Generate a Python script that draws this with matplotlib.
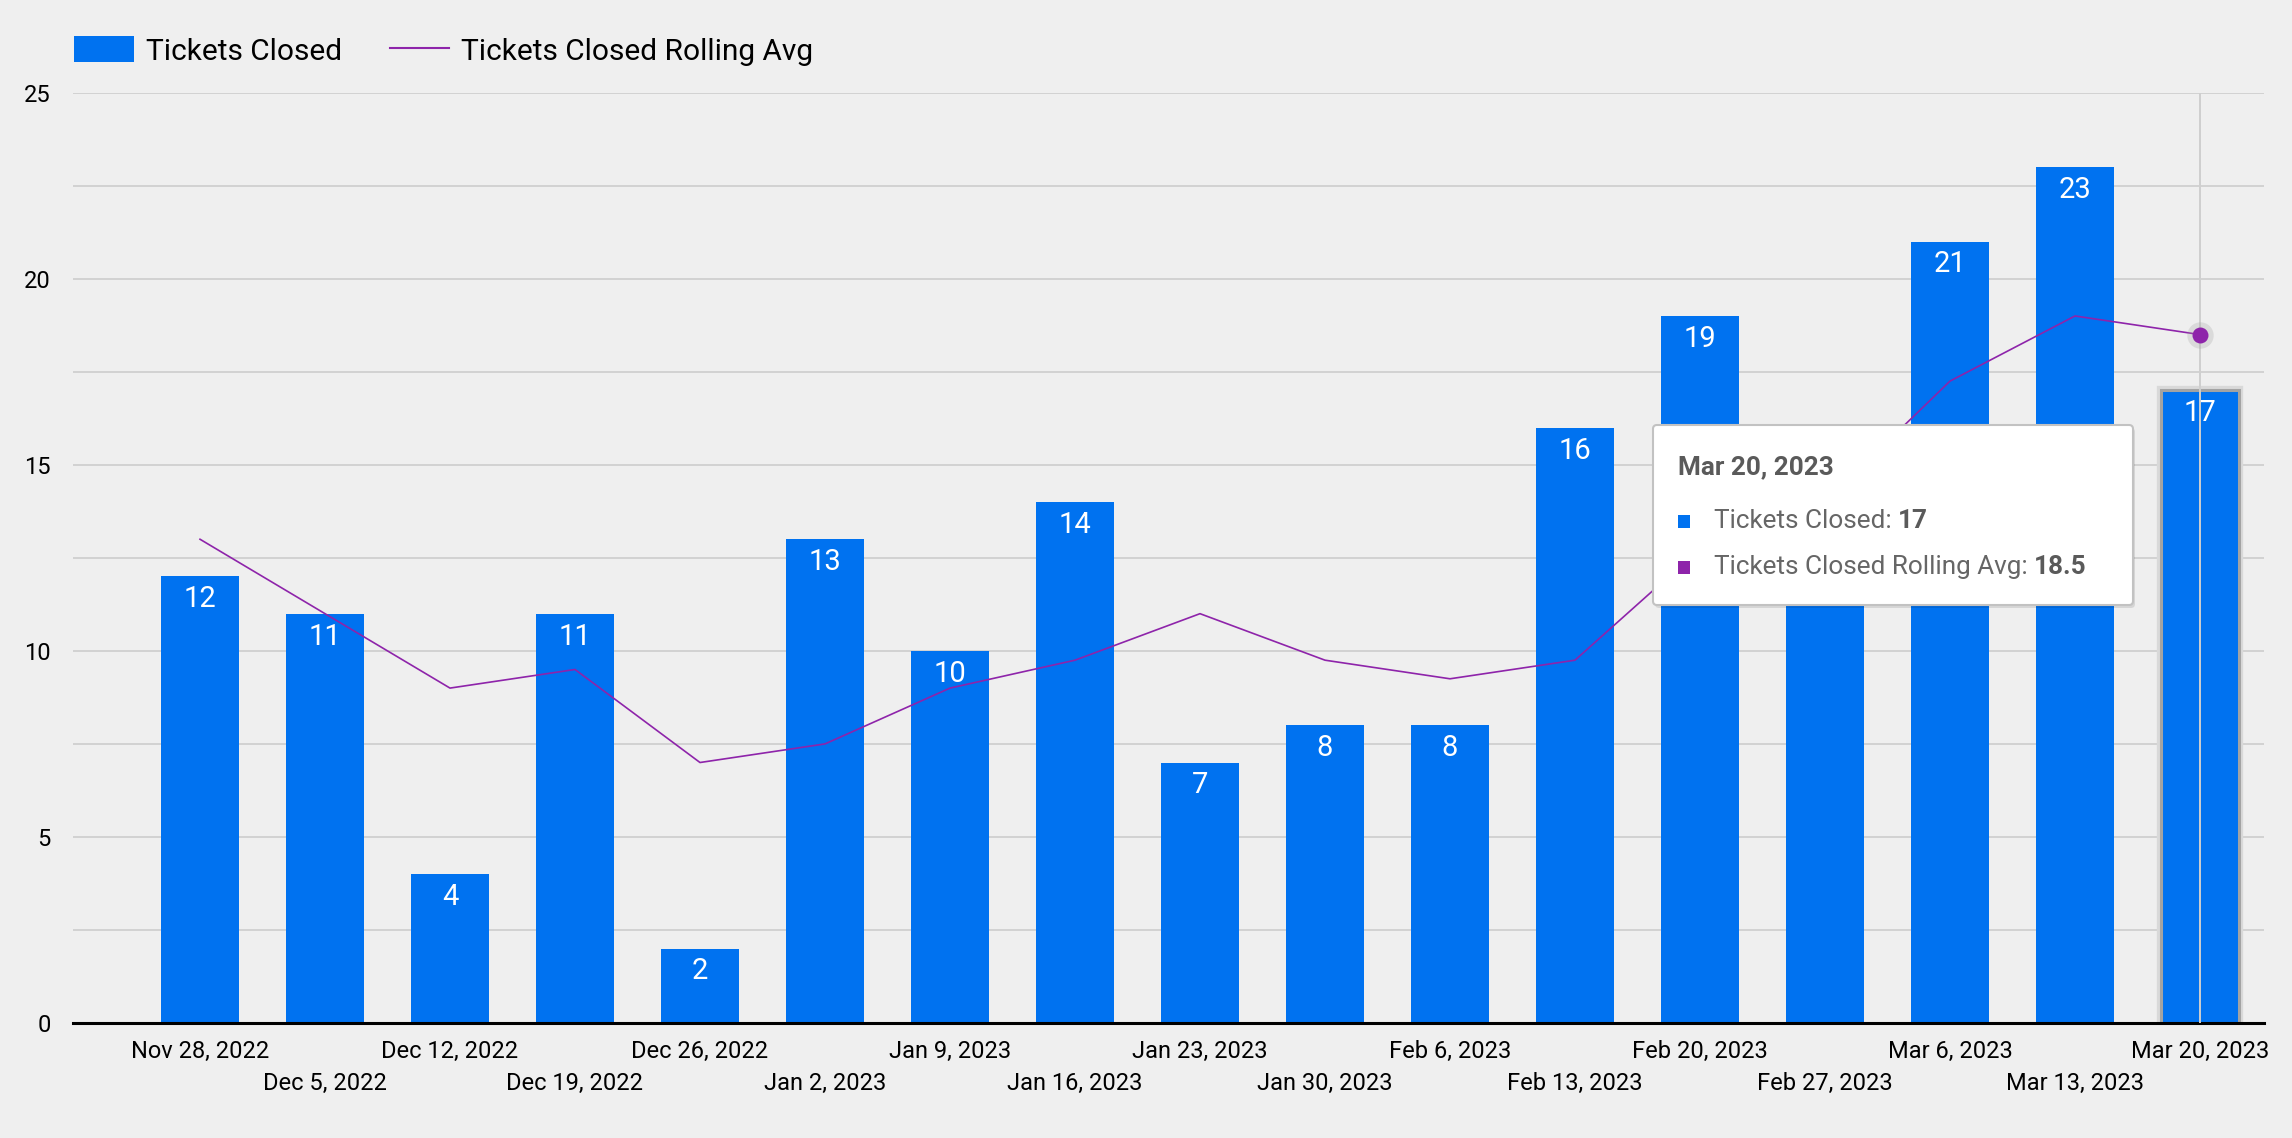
import matplotlib
matplotlib.use('Agg')
import matplotlib.pyplot as plt
from matplotlib.patches import Patch, FancyBboxPatch, Rectangle
from matplotlib.lines import Line2D
from matplotlib import patheffects as pe
from matplotlib.ticker import MultipleLocator

plt.rcParams['font.family'] = ['Roboto', 'DejaVu Sans']

# data
weeks = ['Nov 28, 2022', 'Dec 5, 2022', 'Dec 12, 2022', 'Dec 19, 2022', 'Dec 26, 2022',
         'Jan 2, 2023', 'Jan 9, 2023', 'Jan 16, 2023', 'Jan 23, 2023', 'Jan 30, 2023',
         'Feb 6, 2023', 'Feb 13, 2023', 'Feb 20, 2023', 'Feb 27, 2023', 'Mar 6, 2023',
         'Mar 13, 2023', 'Mar 20, 2023']
tickets_closed = [12, 11, 4, 11, 2, 13, 10, 14, 7, 8, 8, 16, 19, 13, 21, 23, 17]
rolling_avg = [13, 11, 9, 9.5, 7, 7.5, 9, 9.75, 11, 9.75, 9.25, 9.75, 12.75, 14, 17.25, 19, 18.5]
y_ticks = [0, 5, 10, 15, 20, 25]

BLUE = '#0072f0'
PURPLE = '#8e24aa'
BG = '#efefef'
W, H = 2292, 1138


def px(x, y):
    # pixel position (top-left origin) -> inches for dpi_scale_trans
    return x / 100, (H - y) / 100


fig = plt.figure(figsize=(W / 100, H / 100), dpi=100, facecolor=BG)
ax = fig.add_axes([73 / W, 1 - 1023 / H, (2264 - 73) / W, (1023 - 92.7) / H])
ax.set_facecolor(BG)

x = list(range(len(weeks)))
bars = ax.bar(x, tickets_closed, width=0.624, color=BLUE, zorder=2)

# hovered bar gets a grey outline
hl = bars[-1]
hl.set_edgecolor('#a3a3a3')
hl.set_linewidth(2.2)
hl.set_path_effects([pe.withStroke(linewidth=6, foreground='#d9d9d9')])

ax.plot(x, rolling_avg, color=PURPLE, lw=1.2, zorder=3)

for i, v in enumerate(tickets_closed):
    ax.annotate(str(v), xy=(i, v), xytext=(0, -16.5), textcoords='offset points',
                ha='center', va='center', color='white', fontsize=21, zorder=4)

# hover crosshair and point
ax.axvline(x[-1], color='#cfcfcf', lw=1.4, zorder=5)
ax.plot(x[-1], rolling_avg[-1], 'o', ms=19, color='#9e9e9e', alpha=0.25, mec='none', zorder=6)
ax.plot(x[-1], rolling_avg[-1], 'o', ms=11.5, color=PURPLE, mec='none', zorder=7)

ax.set_xlim(-1.016, 16.512)
ax.set_ylim(0, 25)
ax.set_yticks(y_ticks)
ax.yaxis.set_minor_locator(MultipleLocator(2.5))
ax.yaxis.grid(True, which='both', color='#d2d2d2', lw=1.4)
ax.set_axisbelow(True)
for s in ['top', 'right', 'left']:
    ax.spines[s].set_visible(False)
ax.spines['bottom'].set_color('black')
ax.spines['bottom'].set_linewidth(2.2)
ax.spines['bottom'].set_zorder(3)
ax.tick_params(axis='both', which='both', length=0, labelsize=17, colors='black')
ax.tick_params(axis='y', pad=16)

ax.set_xticks(x)
ax.set_xticklabels(weeks)
for i, t in enumerate(ax.xaxis.get_major_ticks()):
    t.set_pad(12 if i % 2 == 0 else 35)

# legend
handles = [Patch(facecolor=BLUE, edgecolor='none'), Line2D([], [], color=PURPLE, lw=1.5)]
fig.legend(handles, ['Tickets Closed', 'Tickets Closed Rolling Avg'],
           loc='center left', bbox_to_anchor=(74 / W, 1 - 51 / H), ncol=2,
           frameon=False, fontsize=21.5, handlelength=2.0, handleheight=0.95,
           handletextpad=0.4, columnspacing=1.6, borderpad=0, borderaxespad=0)

# tooltip
tr = fig.dpi_scale_trans
bx, by = px(1653, 605)
bw, bh = (2133 - 1653) / 100, (605 - 425) / 100
fig.add_artist(FancyBboxPatch((bx + 0.02, by - 0.03), bw, bh,
                              boxstyle='round,pad=0,rounding_size=0.04',
                              transform=tr, fc='black', ec='none', alpha=0.10, zorder=20))
fig.add_artist(FancyBboxPatch((bx, by), bw, bh, boxstyle='round,pad=0,rounding_size=0.04',
                              transform=tr, fc='white', ec='#c2c2c2', lw=1.5, zorder=21))

tx, ty = px(1678, 467)
fig.text(tx, ty, weeks[-1], transform=tr, fontsize=18.8, fontweight='bold',
         color='#5a5a5a', va='center', ha='left', zorder=22)

rows = [('Tickets Closed:', f'{tickets_closed[-1]}', BLUE, 521),
        ('Tickets Closed Rolling Avg:', f'{rolling_avg[-1]}', PURPLE, 567)]
for label, val, col, yy in rows:
    sx, sy = px(1678, yy + 6.5)
    fig.add_artist(Rectangle((sx, sy), 0.12, 0.13, transform=tr, fc=col, ec='none', zorder=22))
    lx, ly = px(1714, yy)
    t1 = fig.text(lx, ly, label, transform=tr, fontsize=18.8, color='#666666',
                  va='center', ha='left', zorder=22)
    fig.add_artist(plt.Annotation(val, xy=(1, 0.5), xycoords=t1, xytext=(4.5, 0),
                                  textcoords='offset points', va='center', ha='left',
                                  fontsize=18.8, fontweight='bold', color='#5a5a5a', zorder=22))

fig.savefig('out.png', dpi=100, facecolor=BG)
